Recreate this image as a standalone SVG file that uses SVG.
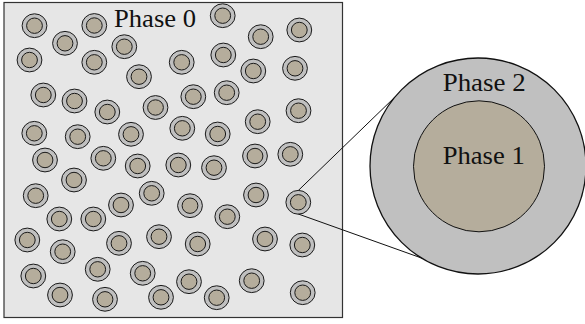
<svg xmlns="http://www.w3.org/2000/svg" xmlns:xlink="http://www.w3.org/1999/xlink" width="585" height="324" viewBox="0 0 585 324">
  <style>
    .matrix { fill: #e6e6e6; stroke: #333333; stroke-width: 1.2; }
    .shell { fill: #c0c0c0; stroke: #1a1a1a; stroke-width: 1; }
    .core { fill: #b5ad9c; stroke: #1a1a1a; stroke-width: 1; }
    .big-shell { fill: #c0c0c0; stroke: #111111; stroke-width: 1.3; }
    .big-core { fill: #b5ad9c; stroke: #111111; stroke-width: 1; }
    .label { font-family: "Liberation Serif", "Times New Roman", serif; font-size: 25px; fill: #111111; }
    .link { stroke: #111111; stroke-width: 1; fill: none; }
  </style>
  <defs>
    <!-- coated inclusion: core (phase 1) inside shell (phase 2) -->
    <g id="inclusion">
      <ellipse class="shell" cx="0" cy="0" rx="12.4" ry="11.9"/>
      <ellipse class="core" cx="0" cy="0" rx="7.9" ry="7.7"/>
    </g>
  </defs>

  <!-- matrix (phase 0) -->
  <g id="matrix">
    <rect class="matrix" x="4" y="2.5" width="338.5" height="315"/>
    <text class="label" x="114" y="26.7" textLength="82" lengthAdjust="spacingAndGlyphs">Phase 0</text>
  </g>

  <!-- inclusions scattered in the matrix -->
  <g id="inclusions">
    <use xlink:href="#inclusion" x="34.5" y="25.7"/>
    <use xlink:href="#inclusion" x="94.3" y="25.5"/>
    <use xlink:href="#inclusion" x="222.7" y="15.7"/>
    <use xlink:href="#inclusion" x="260.7" y="36.7"/>
    <use xlink:href="#inclusion" x="299.3" y="30"/>
    <use xlink:href="#inclusion" x="65" y="43.3"/>
    <use xlink:href="#inclusion" x="124.3" y="46.7"/>
    <use xlink:href="#inclusion" x="29.5" y="60"/>
    <use xlink:href="#inclusion" x="94.3" y="62.3"/>
    <use xlink:href="#inclusion" x="139" y="76.7"/>
    <use xlink:href="#inclusion" x="181.7" y="62.3"/>
    <use xlink:href="#inclusion" x="223.3" y="55"/>
    <use xlink:href="#inclusion" x="253.3" y="71"/>
    <use xlink:href="#inclusion" x="295" y="68.3"/>
    <use xlink:href="#inclusion" x="43.3" y="95"/>
    <use xlink:href="#inclusion" x="74.5" y="101"/>
    <use xlink:href="#inclusion" x="107.3" y="112"/>
    <use xlink:href="#inclusion" x="155.5" y="107.5"/>
    <use xlink:href="#inclusion" x="193.3" y="96.7"/>
    <use xlink:href="#inclusion" x="226.7" y="92.7"/>
    <use xlink:href="#inclusion" x="298.5" y="110.7"/>
    <use xlink:href="#inclusion" x="34.3" y="133.3"/>
    <use xlink:href="#inclusion" x="77.7" y="136.7"/>
    <use xlink:href="#inclusion" x="131" y="134.3"/>
    <use xlink:href="#inclusion" x="182.3" y="128.3"/>
    <use xlink:href="#inclusion" x="217.7" y="134"/>
    <use xlink:href="#inclusion" x="257.7" y="121.7"/>
    <use xlink:href="#inclusion" x="45" y="160"/>
    <use xlink:href="#inclusion" x="103.3" y="158.3"/>
    <use xlink:href="#inclusion" x="137.7" y="166"/>
    <use xlink:href="#inclusion" x="178.3" y="165"/>
    <use xlink:href="#inclusion" x="214" y="167.7"/>
    <use xlink:href="#inclusion" x="255" y="156"/>
    <use xlink:href="#inclusion" x="290.3" y="154.3"/>
    <use xlink:href="#inclusion" x="74" y="180"/>
    <use xlink:href="#inclusion" x="35.7" y="195.7"/>
    <use xlink:href="#inclusion" x="151.7" y="193.3"/>
    <use xlink:href="#inclusion" x="121" y="205"/>
    <use xlink:href="#inclusion" x="190" y="205.7"/>
    <use xlink:href="#inclusion" x="227.3" y="216.7"/>
    <use xlink:href="#inclusion" x="256" y="195"/>
    <use xlink:href="#inclusion" x="59.3" y="219"/>
    <use xlink:href="#inclusion" x="93.3" y="219"/>
    <use xlink:href="#inclusion" x="27.3" y="240"/>
    <use xlink:href="#inclusion" x="62.7" y="251.7"/>
    <use xlink:href="#inclusion" x="119" y="243.3"/>
    <use xlink:href="#inclusion" x="159" y="236.7"/>
    <use xlink:href="#inclusion" x="197.7" y="244"/>
    <use xlink:href="#inclusion" x="265" y="239"/>
    <use xlink:href="#inclusion" x="302.3" y="245"/>
    <use xlink:href="#inclusion" x="33.3" y="276"/>
    <use xlink:href="#inclusion" x="97.7" y="269.3"/>
    <use xlink:href="#inclusion" x="142.7" y="273.3"/>
    <use xlink:href="#inclusion" x="189" y="281.7"/>
    <use xlink:href="#inclusion" x="251.7" y="280.7"/>
    <use xlink:href="#inclusion" x="60" y="295"/>
    <use xlink:href="#inclusion" x="105" y="299.3"/>
    <use xlink:href="#inclusion" x="161" y="297.3"/>
    <use xlink:href="#inclusion" x="216.7" y="297.7"/>
    <use xlink:href="#inclusion" x="302.7" y="292.7"/>
  </g>

  <!-- inclusion that is shown enlarged -->
  <g id="selected-inclusion">
    <use xlink:href="#inclusion" x="298.3" y="202.3"/>
  </g>

  <!-- lines tying the selected inclusion to its enlarged view -->
  <g id="connectors">
    <line class="link" x1="298.3" y1="190.5" x2="396" y2="96"/>
    <line class="link" x1="298.3" y1="214" x2="422" y2="258.2"/>
  </g>

  <!-- enlarged inclusion -->
  <g id="enlarged-inclusion">
    <circle class="big-shell" cx="478" cy="166" r="108"/>
    <text class="label" x="442.7" y="91" textLength="83" lengthAdjust="spacingAndGlyphs">Phase 2</text>
    <circle class="big-core" cx="479" cy="166.3" r="65.5"/>
    <text class="label" x="442.7" y="164.3" textLength="82" lengthAdjust="spacingAndGlyphs">Phase 1</text>
  </g>
</svg>
